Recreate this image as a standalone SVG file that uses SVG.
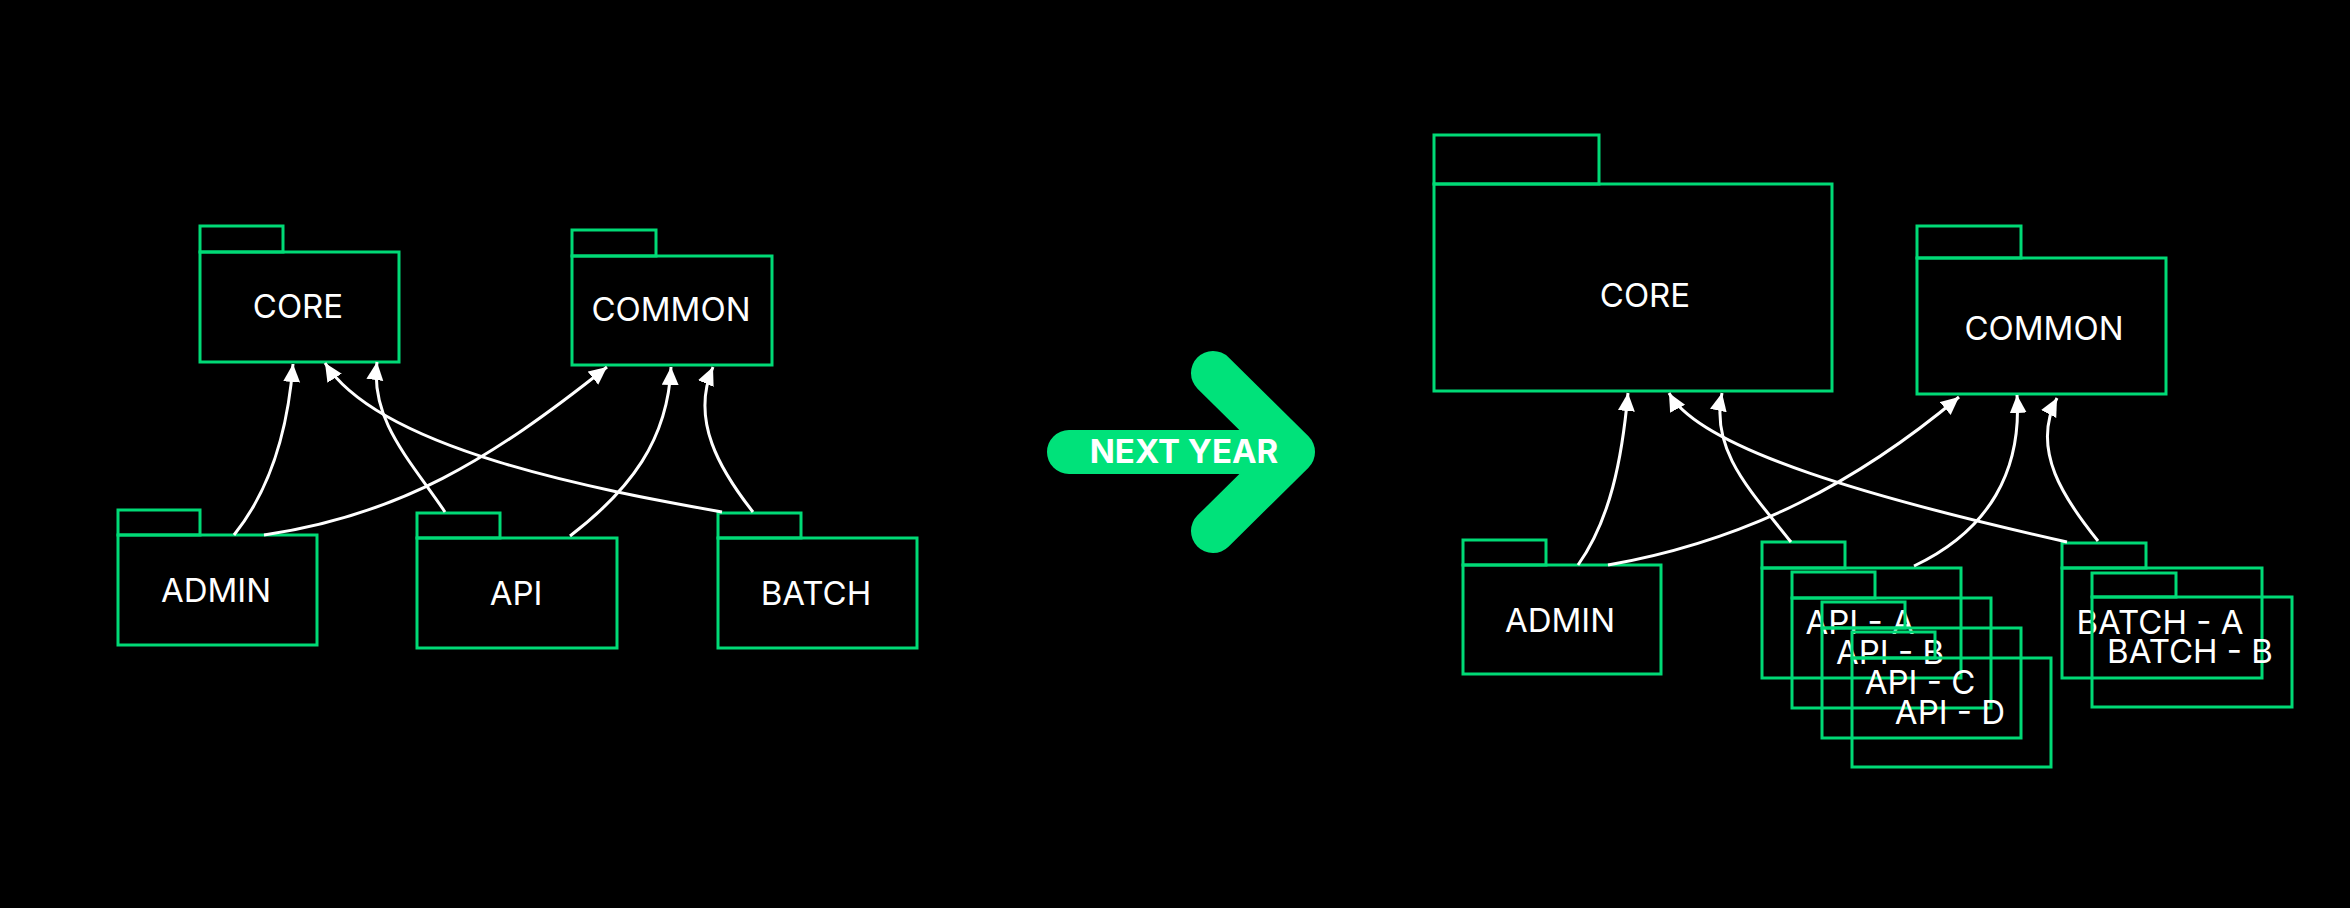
<svg xmlns="http://www.w3.org/2000/svg" width="2350" height="908" viewBox="0 0 2350 908">
<style>
.box{fill:none;stroke:#00DA76;stroke-width:3}
.lbl{font-family:Inter,"Liberation Sans",sans-serif;font-size:33px;fill:#fff;text-anchor:middle}
.big{font-family:Inter,"Liberation Sans",sans-serif;font-size:33px;font-weight:700;fill:#fff;text-anchor:middle}
.conn{fill:none;stroke:#fff;stroke-width:3;marker-end:url(#ah)}
</style>
<defs>
<marker id="ah" markerWidth="19" markerHeight="18" refX="18" refY="8.5" orient="auto" markerUnits="userSpaceOnUse">
<path d="M0,0 L18,8.5 L0,17 z" fill="#fff"/>
</marker>
</defs>
<rect x="0" y="0" width="2350" height="908" fill="#000"/>

<!-- left side -->
<g id="core-left">
<rect class="box" x="200" y="226" width="83" height="26"/>
<rect class="box" x="200" y="252" width="199" height="110"/>
<text class="lbl" x="298" y="318">CORE</text>
</g>
<g id="common-left">
<rect class="box" x="572" y="230" width="84" height="26"/>
<rect class="box" x="572" y="256" width="200" height="109"/>
<text class="lbl" x="671" y="321">COMMON</text>
</g>
<g id="admin-left">
<rect class="box" x="118" y="510" width="82" height="25"/>
<rect class="box" x="118" y="535" width="199" height="110"/>
<text class="lbl" x="216" y="602">ADMIN</text>
</g>
<g id="api-left">
<rect class="box" x="417" y="513" width="83" height="25"/>
<rect class="box" x="417" y="538" width="200" height="110"/>
<text class="lbl" x="516" y="605">API</text>
</g>
<g id="batch-left">
<rect class="box" x="718" y="513" width="83" height="25"/>
<rect class="box" x="718" y="538" width="199" height="110"/>
<text class="lbl" x="816" y="605">BATCH</text>
</g>

<!-- next year arrow -->
<g id="next-year">
<path d="M1069,452 L1293,452 M1213,373 L1293,452 L1213,531" fill="none" stroke="#00E27A" stroke-width="44" stroke-linecap="round" stroke-linejoin="round"/>
<text class="big" x="1184" y="463">NEXT YEAR</text>
</g>

<!-- right side -->
<g id="core-right">
<rect class="box" x="1434" y="135" width="165" height="49"/>
<rect class="box" x="1434" y="184" width="398" height="207"/>
<text class="lbl" x="1645" y="307">CORE</text>
</g>
<g id="common-right">
<rect class="box" x="1917" y="226" width="104" height="32"/>
<rect class="box" x="1917" y="258" width="249" height="136"/>
<text class="lbl" x="2044" y="340">COMMON</text>
</g>
<g id="admin-right">
<rect class="box" x="1463" y="540" width="83" height="25"/>
<rect class="box" x="1463" y="565" width="198" height="109"/>
<text class="lbl" x="1560" y="632">ADMIN</text>
</g>
<g id="api-a">
<rect class="box" x="1762" y="542" width="83" height="26"/>
<rect class="box" x="1762" y="568" width="199" height="110"/>
<text class="lbl" x="1860" y="634">API - A</text>
</g>
<g id="api-b">
<rect class="box" x="1792" y="572" width="83" height="26"/>
<rect class="box" x="1792" y="598" width="199" height="110"/>
<text class="lbl" x="1890" y="664">API - B</text>
</g>
<g id="api-c">
<rect class="box" x="1822" y="602" width="83" height="26"/>
<rect class="box" x="1822" y="628" width="199" height="110"/>
<text class="lbl" x="1920" y="694">API - C</text>
</g>
<g id="api-d">
<rect class="box" x="1852" y="632" width="83" height="26"/>
<rect class="box" x="1852" y="658" width="199" height="109"/>
<text class="lbl" x="1950" y="724">API - D</text>
</g>
<g id="batch-a">
<rect class="box" x="2062" y="543" width="84" height="25"/>
<rect class="box" x="2062" y="568" width="200" height="110"/>
<text class="lbl" x="2160" y="634">BATCH - A</text>
</g>
<g id="batch-b">
<rect class="box" x="2092" y="573" width="84" height="24"/>
<rect class="box" x="2092" y="597" width="200" height="110"/>
<text class="lbl" x="2190" y="663">BATCH - B</text>
</g>

<g id="connectors">
<path class="conn" d="M234,535 C270,490 288,430 293,364"/>
<path class="conn" d="M264,535 C400,515 490,460 607,367"/>
<path class="conn" d="M445,512 C410,460 370,420 377,362"/>
<path class="conn" d="M570,536 C630,490 668,440 671,367"/>
<path class="conn" d="M722,512 C600,490 380,450 325,363"/>
<path class="conn" d="M753,512 C720,470 690,420 713,367"/>

<path class="conn" d="M1578,565 C1610,520 1622,460 1628,393"/>
<path class="conn" d="M1608,565 C1750,540 1860,480 1959,397"/>
<path class="conn" d="M1791,542 C1750,490 1710,450 1722,393"/>
<path class="conn" d="M1914,566 C1990,530 2022,470 2017,395"/>
<path class="conn" d="M2067,542 C1880,500 1700,450 1669,393"/>
<path class="conn" d="M2098,541 C2065,500 2030,450 2057,398"/>
</g>
</svg>
